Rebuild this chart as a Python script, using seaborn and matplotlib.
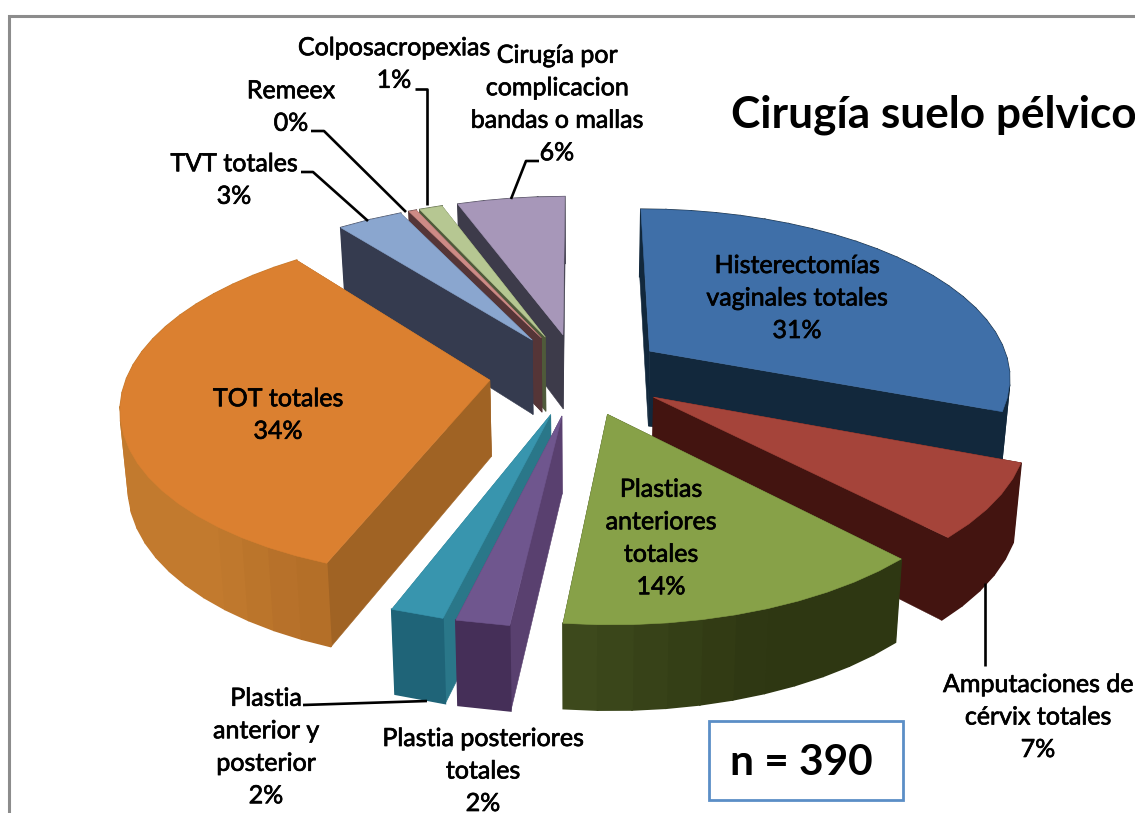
# Cirugia suelo pelvico - tarta 3D separada, dibujada sobre ax.pie
import numpy as np
import matplotlib
matplotlib.use('Agg')
import matplotlib.pyplot as plt
import matplotlib.patheffects as pe
from matplotlib.patches import Polygon, Rectangle
import seaborn as sns

sns.set_theme(style='white')
plt.rcParams['font.family'] = ['Lato', 'DejaVu Sans']

# datos
categorias = ['Histerectomías\nvaginales totales', 'Amputaciones de\ncérvix totales',
              'Plastias\nanteriores\ntotales', 'Plastia posteriores\ntotales',
              'Plastia\nanterior y\nposterior', 'TOT totales', 'TVT totales',
              'Remeex', 'Colposacropexias', 'Cirugía por\ncomplicacion\nbandas o mallas']
valores = [30.8, 7, 14, 2, 2, 33.6, 3.4, 0.4, 1.2, 5.6]

# colores: cara superior, pared oscura, pared clara, pared radial
cara = ['#3F6FA8', '#A5443A', '#87A148', '#6F568E', '#3895AE', '#DB8030', '#8AA6CF', '#CE8B86', '#B6C792', '#A797B9']
pared_osc = ['#12283C', '#431410', '#2E3712', '#452F58', '#1F6478', '#8A5018', '#353B4F', '#553537', '#4F5A3A', '#3D3B4A']
pared_cla = ['#12283C', '#431410', '#52632A', '#452F58', '#1F6478', '#C27A2E', '#353B4F', '#553537', '#4F5A3A', '#3D3B4A']
pared_rad = ['#12283C', '#431410', '#2E3712', '#59406F', '#2A7789', '#A06324', '#353B4F', '#553537', '#4F5A3A', '#3D3B4A']

# posicion de cada etiqueta (centro en pixeles)
pos_etiquetas = [(797, 298), (1038, 717), (661, 538), (483, 771), (266, 747),
                 (278, 415), (234, 180), (291, 107), (394, 64), (557, 104)]

# lineas guia
guias = [[(427, 205), (427, 89), (415, 89)],
         [(311, 131), (324, 131), (406, 212)],
         [(301, 172), (313, 172), (368, 221)],
         [(539, 161), (526, 161), (511, 199)],
         [(985, 583), (985, 666)],
         [(427, 701), (303, 705)]]

# proyeccion
CX, CY, RX, RY, K = 578, 374, 362, 168, 0.142
ALTO = 76


def proyectar(u, v, z=0):
    s = 1 / (1 - K * v)
    x = CX + RX * u * s
    y = CY + RY * v * s
    if z:
        x = CX + (x - CX) * 0.982
        y = y + ALTO * (1 + 0.10 * v)
    return x, y


fig = plt.figure(figsize=(11.35, 8.13), dpi=100)
ax = fig.add_axes([0, 0, 1, 1])

wedges, _ = ax.pie(valores, startangle=90, counterclock=False, explode=[0.245] * len(valores), radius=1)

ax.set_aspect('auto')
ax.set_xlim(0, 1135)
ax.set_ylim(813, 0)
ax.axis('off')

# orden de pintado: de atras hacia delante
orden = [9, 8, 7, 6, 0, 1, 5, 2, 4, 3]

z = 2
for i in orden:
    w = wedges[i]
    t1, t2 = w.theta1, w.theta2
    c0, c1 = w.center
    n = max(2, int((t2 - t1) / 4.5) + 1)
    ang = np.radians(np.linspace(t1, t2, n))
    us = c0 + w.r * np.cos(ang)
    vs = -(c1 + w.r * np.sin(ang))
    pu, pv = c0, -c1

    arriba = [proyectar(a, b) for a, b in zip(us, vs)]
    abajo = [proyectar(a, b, 1) for a, b in zip(us, vs)]
    tip_a = proyectar(pu, pv)
    tip_b = proyectar(pu, pv, 1)

    paredes = []
    # paredes radiales
    paredes.append(((pv + vs[0]) / 2, [tip_a, arriba[0], abajo[0], tip_b], pared_rad[i], 0.4))
    paredes.append(((pv + vs[-1]) / 2, [tip_a, arriba[-1], abajo[-1], tip_b], pared_rad[i], 0.4))
    # pared exterior a bandas
    bandas = sns.blend_palette([pared_osc[i], pared_cla[i]], 40)
    for j in range(n - 1):
        th = (ang[j] + ang[j + 1]) / 2
        t = np.clip(0.35 - np.cos(th), 0, 1)
        col = bandas[int(t * 39)]
        paredes.append(((vs[j] + vs[j + 1]) / 2, [arriba[j], arriba[j + 1], abajo[j + 1], abajo[j]], col, 1.2))

    for _, pts, col, grosor in sorted(paredes, key=lambda p: p[0]):
        ax.add_patch(Polygon(pts, closed=True, facecolor=col, edgecolor=col, lw=grosor, zorder=z))
        z += 1
    ax.add_patch(Polygon([tip_a] + arriba, closed=True, facecolor=cara[i], edgecolor=cara[i], lw=0.4, zorder=z))
    z += 1

for w in wedges:
    w.remove()

# marco de la imagen
ax.plot([9, 9, 1135], [813, 16, 16], color='#8C8C8C', lw=2.2, zorder=1, solid_joinstyle='miter')

# guias
for g in guias:
    xs, ys = zip(*g)
    ax.plot(xs, ys, color='black', lw=1.9, zorder=z, solid_capstyle='butt')
z += 1

# etiquetas
trazo = [pe.withStroke(linewidth=0.5, foreground='black')]
for cat, val, (x, y) in zip(categorias, valores, pos_etiquetas):
    ax.text(x, y, f'{cat}\n{round(val)}%', ha='center', va='center', multialignment='center',
            fontsize=18, linespacing=1.5, color='black', zorder=z, path_effects=trazo)

# titulo y caja n
ax.text(731, 115, 'Cirugía suelo pélvico', ha='left', va='center', fontsize=31.8, fontweight='bold',
        color='black', zorder=z, clip_on=True)
ax.add_patch(Rectangle((709, 721), 194, 79, facecolor='white', edgecolor='#5B8EC6', lw=2, zorder=z))
ax.text(801, 763, 'n = 390', ha='center', va='center', fontsize=30.5, fontweight='bold', color='black', zorder=z + 1)

fig.savefig('out.png', dpi=100)
